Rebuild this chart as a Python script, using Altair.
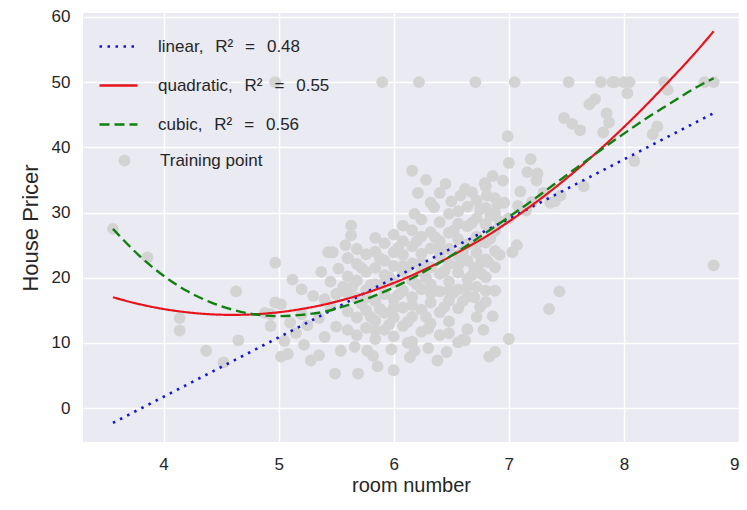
import altair as alt
import pandas as pd

# ---- training points (room number, house price) ----
rm_sparse = [3.56, 3.86, 4.14, 4.14, 4.37, 4.52, 4.63, 4.65, 4.88, 4.93, 4.93, 4.97, 4.97, 4.97, 5.02, 5.02, 5.05, 5.08,
             5.10, 5.12, 5.15, 5.20, 5.20, 5.22, 5.25, 5.28, 5.30, 5.35, 5.35, 5.37, 5.40, 5.40, 5.43, 5.45, 5.45, 5.49,
             5.50, 5.50, 5.54, 5.47, 5.60, 5.63, 5.63, 5.69, 5.77, 5.86, 5.90, 6.00, 6.18, 6.38, 6.22, 6.16, 6.18]
medv_sparse = [27.5, 23.1, 13.8, 11.9, 8.8, 7.0, 17.9, 10.4, 14.6, 14.4, 12.6, 50.0, 22.3, 16.2, 15.9, 7.9, 10.3, 8.3,
               13.1, 19.7, 11.5, 18.2, 14.4, 9.7, 12.7, 7.3, 17.2, 13.8, 8.1, 20.9, 10.9, 16.7, 23.9, 15.6, 19.4, 5.3,
               12.5, 17.5, 8.8, 23.9, 23.0, 28.0, 26.5, 5.3, 8.8, 6.4, 50.0, 5.8, 8.8, 7.3, 50.0, 36.4, 29.8]

rm_core = [5.60, 5.60, 5.60, 5.60, 5.60, 5.68, 5.68, 5.68, 5.68, 5.68, 5.68, 5.76, 5.76, 5.76, 5.76, 5.76,
           5.84, 5.84, 5.84, 5.84, 5.84, 5.84, 5.84, 5.92, 5.92, 5.92, 5.92, 5.92, 5.92,
           6.00, 6.00, 6.00, 6.00, 6.00, 6.00, 6.00, 6.08, 6.08, 6.08, 6.08, 6.08, 6.08, 6.08,
           6.16, 6.16, 6.16, 6.16, 6.16, 6.16, 6.16, 6.24, 6.24, 6.24, 6.24, 6.24, 6.24, 6.24,
           6.32, 6.32, 6.32, 6.32, 6.32, 6.32, 6.32, 6.40, 6.40, 6.40, 6.40, 6.40, 6.40, 6.40, 6.40,
           6.48, 6.48, 6.48, 6.48, 6.48, 6.48, 6.48, 6.56, 6.56, 6.56, 6.56, 6.56, 6.56, 6.56, 6.56,
           6.64, 6.64, 6.64, 6.64, 6.64, 6.64, 6.64, 6.72, 6.72, 6.72, 6.72, 6.72, 6.72, 6.72,
           6.80, 6.80, 6.80, 6.80, 6.80, 6.80, 6.80, 6.88, 6.88, 6.88, 6.88, 6.88, 6.88,
           5.64, 5.72, 5.80, 5.88, 5.96, 6.04, 6.12, 6.20, 6.28, 6.36, 6.44, 6.52, 6.60, 6.68, 6.76, 6.84,
           5.66, 5.82, 5.98, 6.14, 6.30, 6.46, 6.62, 6.78]
medv_core = [12.0, 14.8, 17.6, 20.2, 23.0, 11.2, 13.9, 16.9, 19.6, 22.1, 24.4, 12.3, 15.0, 18.1, 20.9, 23.6,
             10.6, 13.4, 16.4, 19.0, 21.5, 24.0, 26.1, 12.0, 14.6, 17.5, 20.4, 22.6, 25.3,
             11.0, 13.9, 16.7, 19.3, 21.8, 23.9, 26.6, 12.6, 15.4, 18.0, 20.9, 23.5, 25.6, 28.0,
             10.2, 14.0, 17.0, 19.6, 22.2, 24.8, 27.3, 11.7, 15.1, 18.2, 21.0, 23.7, 26.3, 28.9,
             13.0, 16.2, 19.0, 21.6, 24.5, 27.0, 31.5, 11.2, 14.7, 17.9, 20.6, 23.3, 25.6, 28.5, 33.0,
             13.3, 16.5, 19.4, 22.1, 24.4, 26.9, 29.8, 10.1, 15.3, 18.2, 20.8, 23.4, 25.9, 28.3, 30.2,
             12.1, 17.1, 19.8, 22.6, 25.1, 27.9, 30.9, 14.0, 18.6, 21.0, 23.8, 26.3, 29.1, 31.8,
             16.3, 20.1, 22.8, 25.4, 28.2, 30.7, 34.0, 18.0, 21.6, 24.1, 27.2, 29.9, 32.2,
             18.6, 16.0, 18.9, 15.2, 20.1, 17.4, 21.5, 19.0, 20.0, 18.0, 21.0, 17.7, 24.0, 20.4, 22.4, 26.0,
             9.4, 8.0, 9.0, 7.8, 9.2, 8.6, 10.4, 12.0]

rm_fill = [5.72, 5.80, 5.88, 5.96, 6.04, 6.12, 6.20, 6.28, 6.36, 6.44, 6.52, 6.60, 6.68, 6.76, 6.84, 5.76, 5.92,
           6.08, 6.24, 6.40, 6.56, 6.72, 5.84, 6.00, 6.16, 6.32, 6.48, 6.64, 6.80, 6.48, 6.60, 6.30, 6.12, 5.56,
           5.52, 5.58, 6.92, 6.96]
medv_fill = [21.5, 14.0, 23.0, 12.8, 24.6, 13.2, 25.6, 14.0, 26.2, 15.5, 27.2, 16.4, 28.4, 20.6, 29.5, 17.0, 19.2,
             21.8, 22.3, 24.4, 21.8, 25.2, 11.9, 15.4, 15.8, 17.7, 18.0, 18.6, 18.0, 11.5, 10.5, 12.2, 10.0, 18.6,
             21.4, 25.0, 28.6, 31.5]

rm_upper = [6.21, 6.28, 6.35, 6.45, 6.50, 6.58, 6.62, 6.68, 6.75, 6.79, 6.81, 6.86, 6.90, 6.95, 6.99, 7.00, 7.00,
            7.03, 7.07, 6.92, 6.82, 6.70, 6.70, 6.75, 6.86, 6.83, 6.88, 7.00, 6.71]
medv_upper = [33.0, 35.0, 30.8, 34.4, 31.7, 32.6, 33.6, 33.1, 30.5, 34.5, 32.6, 35.6, 31.2, 34.9, 41.7, 37.6, 29.1,
              23.9, 25.0, 23.5, 22.4, 17.0, 21.5, 15.5, 14.1, 7.9, 8.6, 10.6, 50.0]

rm_right = [7.05, 7.08, 7.10, 7.15, 7.16, 7.19, 7.20, 7.24, 7.25, 7.30, 7.35, 7.36, 7.40, 7.44, 7.45, 7.48, 7.52,
            7.55, 7.62, 7.65, 7.70, 7.75, 7.80, 7.82, 7.85, 7.87, 7.90, 7.92, 8.00, 8.03, 8.05, 8.09, 8.25, 8.29,
            8.35, 8.38, 8.70, 8.78, 8.78]
medv_right = [50.0, 31.0, 33.2, 30.3, 36.2, 38.2, 31.6, 34.9, 36.0, 33.0, 15.2, 31.5, 31.7, 17.9, 32.6, 44.5, 50.0,
              43.6, 42.6, 34.0, 46.6, 47.4, 50.0, 42.3, 45.2, 43.8, 50.0, 50.0, 50.0, 48.3, 50.0, 37.9, 42.0, 43.2,
              50.0, 48.8, 50.0, 50.0, 21.9]

# ---- fitted curves ----
lin_x = [3.56, 8.78]
lin_y = [-2.27, 45.24]
curve_x = [3.56, 3.8, 4.0, 4.2, 4.4, 4.6, 4.8, 5.0, 5.2, 5.4, 5.6, 5.8, 6.0, 6.2, 6.4, 6.6, 6.8, 7.0,
           7.2, 7.4, 7.6, 7.8, 8.0, 8.2, 8.4, 8.6, 8.78]
quad_y = [17.0, 15.9, 15.2, 14.7, 14.4, 14.3, 14.4, 14.7, 15.2, 15.9, 16.8, 17.9, 19.2, 20.7, 22.4, 24.3, 26.3, 28.6,
          31.1, 33.8, 36.7, 39.8, 43.1, 46.6, 50.3, 54.1, 57.8]
cubic_y = [27.5, 23.2, 20.3, 18.0, 16.3, 15.1, 14.35, 14.1, 14.3, 14.8, 15.8, 17.0, 18.5, 20.3, 22.3, 24.5, 26.9, 29.3,
           31.8, 34.4, 37.0, 39.6, 42.1, 44.5, 46.7, 48.9, 50.6]

SP = "\u2002\u2009"
labels = [f"linear,{SP}R²{SP}={SP}0.48", f"quadratic,{SP}R²{SP}={SP}0.55", f"cubic,{SP}R²{SP}={SP}0.56"]
point_label = "Training point"

pts = pd.DataFrame({"x": rm_sparse + rm_core + rm_fill + rm_upper + rm_right,
                    "y": medv_sparse + medv_core + medv_fill + medv_upper + medv_right,
                    "kind": point_label})
lines = pd.concat([
    pd.DataFrame({"x": lin_x, "y": lin_y, "model": labels[0]}),
    pd.DataFrame({"x": curve_x, "y": quad_y, "model": labels[1]}),
    pd.DataFrame({"x": curve_x, "y": cubic_y, "model": labels[2]}),
], ignore_index=True)

FONT = "Liberation Sans"
TXT = "#262626"

xenc = alt.X("x:Q", scale=alt.Scale(domain=[3.30, 9.00], nice=False, zero=False),
             axis=alt.Axis(values=[4, 5, 6, 7, 8, 9], title="room number", labelPadding=14, titlePadding=3,
                           titleFontSize=20))
yenc = alt.Y("y:Q", scale=alt.Scale(domain=[-5.2, 60.6], nice=False, zero=False),
             axis=alt.Axis(values=[0, 10, 20, 30, 40, 50, 60], title="House Pricer", labelPadding=13,
                           titlePadding=9, titleFontSize=22))

color_scale = alt.Scale(domain=labels, range=["#1414d8", "#e8141c", "#118011"])
dash_scale = alt.Scale(domain=labels, range=[[2.5, 5.5], [1, 0], [10, 5]])
line_legend = alt.Legend(orient="none", legendX=15, legendY=13, symbolType="stroke", symbolSize=1444,
                         symbolStrokeWidth=2.5, labelFontSize=17, labelFont=FONT, labelColor=TXT,
                         labelOffset=19, rowPadding=10, padding=0, labelLimit=400)

points = alt.Chart(pts).mark_point(filled=True, size=140, color="#d3d3d3", opacity=1).encode(
    x=xenc, y=yenc,
    shape=alt.Shape("kind:N", scale=alt.Scale(domain=[point_label], range=["circle"]), title=None,
                    legend=alt.Legend(orient="none", legendX=33, legendY=139, symbolSize=140,
                                      symbolFillColor="#d3d3d3", symbolStrokeWidth=0, labelFontSize=17,
                                      labelFont=FONT, labelColor=TXT, labelOffset=27, padding=0)),
)

def line_layer(i, width):
    return alt.Chart(lines).transform_filter(alt.datum.model == labels[i]).mark_line(
        strokeWidth=width, interpolate="monotone", clip=True).encode(
        x=xenc, y=yenc,
        color=alt.Color("model:N", scale=color_scale, title=None, legend=line_legend),
        strokeDash=alt.StrokeDash("model:N", scale=dash_scale, title=None, legend=line_legend),
    )

chart = alt.layer(points, line_layer(0, 2.6), line_layer(1, 2.2), line_layer(2, 2.4)).properties(
    width=656, height=429,
    autosize=alt.AutoSizeParams(type="none"),
    padding={"left": 75, "top": 5, "right": 0, "bottom": 55},
    background="white",
).configure_view(fill="#EAEAF2", strokeWidth=0).configure_axis(
    grid=True, gridColor="white", gridWidth=1.5, domain=False, ticks=False,
    labelFont=FONT, labelFontSize=17, labelColor=TXT,
    titleFont=FONT, titleFontWeight="normal", titleColor=TXT,
)

chart.save("out.html", embed_options={"renderer": "svg", "actions": False})
